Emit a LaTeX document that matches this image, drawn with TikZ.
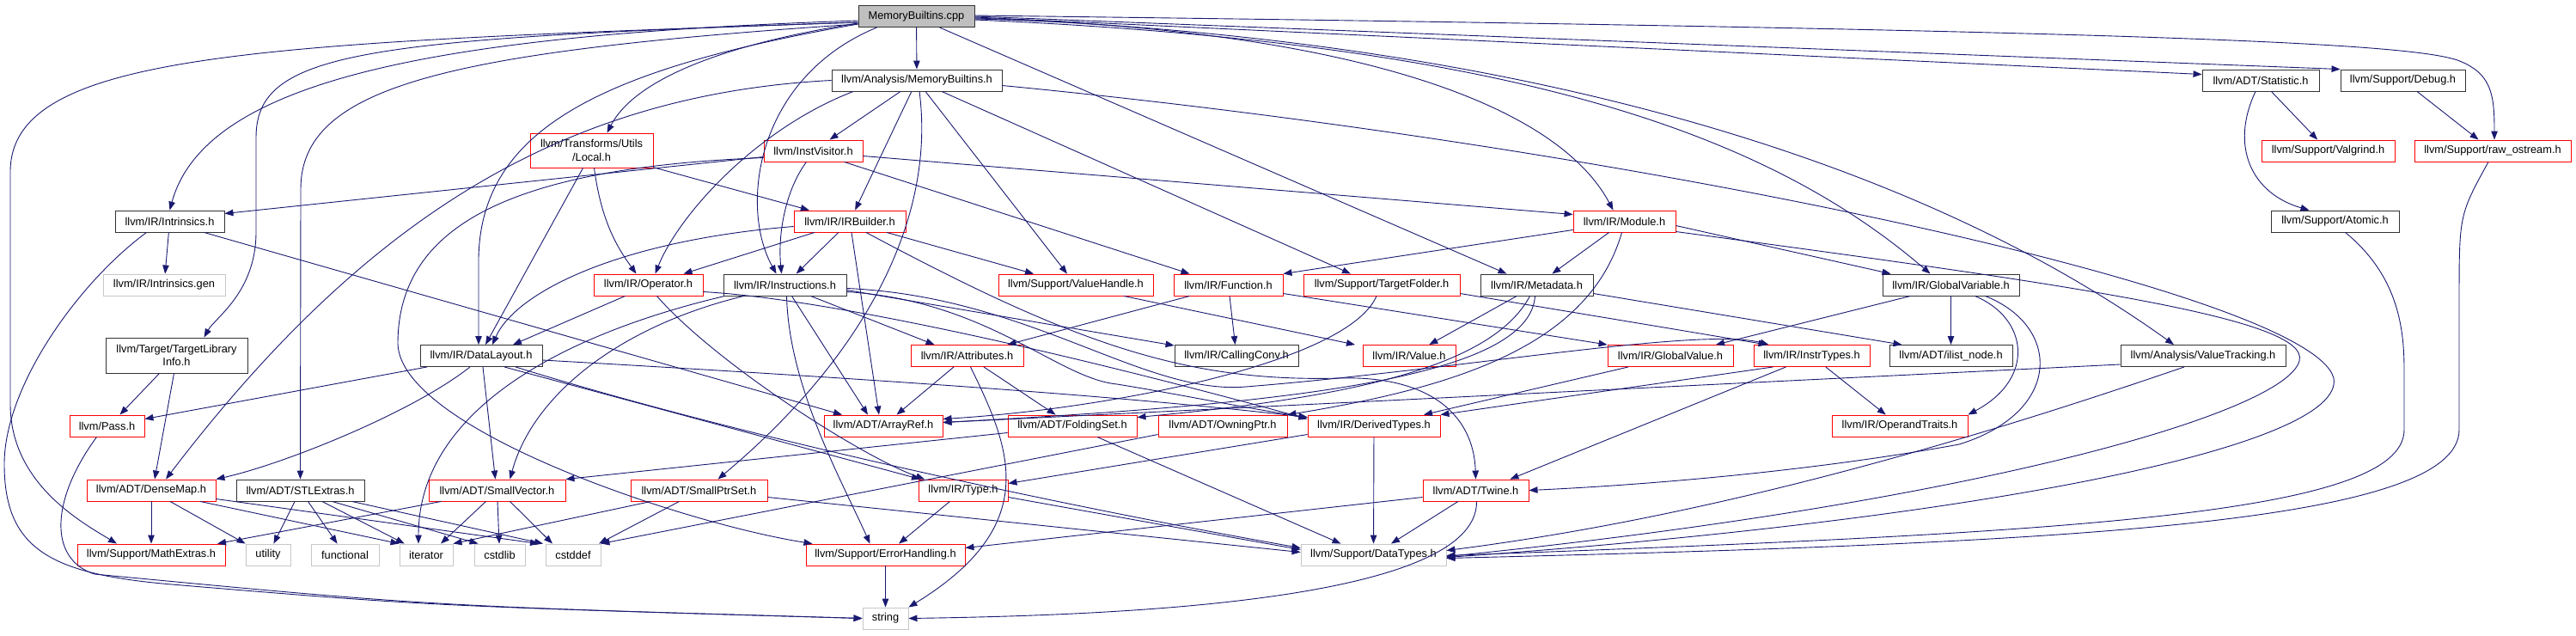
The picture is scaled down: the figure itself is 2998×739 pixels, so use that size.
\documentclass[tikz,border=0pt]{standalone}
\usepackage{fontspec}
\setmainfont{Liberation Sans}
\usetikzlibrary{arrows.meta}
\definecolor{edgeblue}{RGB}{25,25,112}
\begin{document}
\begin{tikzpicture}[x=1pt, y=-1pt,
  box/.style={rectangle, minimum height=25pt, inner sep=0pt, fill=white,
    font=\fontsize{12.8}{15.5}\selectfont, text=black, line width=0.9pt},
  rootbox/.style={box, draw=black!80, fill=black!25},
  hdr/.style={box, draw=black!80},
  trunc/.style={box, draw=red},
  sys/.style={box, draw=black!22},
  dep/.style={-{Triangle[length=10pt,width=7.5pt]}, draw=edgeblue, line width=0.9pt}
]
\useasboundingbox (0,0) rectangle (2998,739);

% nodes, row by row
\node[rootbox, minimum width=135pt] (cpp) at (1066.5,19) {MemoryBuiltins.cpp};

\node[hdr, minimum width=198pt] (mbh) at (1067,93.5) {llvm/Analysis/MemoryBuiltins.h};
\node[hdr, minimum width=136pt] (stat) at (2631,93.5) {llvm/ADT/Statistic.h};
\node[hdr, minimum width=145pt] (dbg) at (2796.5,93.5) {llvm/Support/Debug.h};

\node[trunc, minimum width=143pt, minimum height=40pt, align=center] (local) at (688.5,175) {llvm/Transforms/Utils\\/Local.h};
\node[trunc, minimum width=115pt] (instv) at (946.5,175.5) {llvm/InstVisitor.h};
\node[trunc, minimum width=155pt] (valg) at (2709.5,175.5) {llvm/Support/Valgrind.h};
\node[trunc, minimum width=182pt] (rawos) at (2901,175.5) {llvm/Support/raw\_ostream.h};

\node[hdr, minimum width=127pt] (intr) at (197.5,257.5) {llvm/IR/Intrinsics.h};
\node[trunc, minimum width=130pt] (irb) at (989,257.5) {llvm/IR/IRBuilder.h};
\node[trunc, minimum width=119pt] (mod) at (1890.5,257.5) {llvm/IR/Module.h};
\node[hdr, minimum width=149pt] (atom) at (2717.5,257.5) {llvm/Support/Atomic.h};

\node[sys, minimum width=142pt] (igen) at (191,331.5) {llvm/IR/Intrinsics.gen};
\node[trunc, minimum width=127pt] (oper) at (754.5,331.5) {llvm/IR/Operator.h};
\node[hdr, minimum width=143pt] (instr) at (913.5,331.5) {llvm/IR/Instructions.h};
\node[trunc, minimum width=180pt] (vh) at (1252,331.5) {llvm/Support/ValueHandle.h};
\node[trunc, minimum width=127pt] (func) at (1429.5,331.5) {llvm/IR/Function.h};
\node[trunc, minimum width=182pt] (tfold) at (1608,331.5) {llvm/Support/TargetFolder.h};
\node[hdr, minimum width=131pt] (meta) at (1788.5,331.5) {llvm/IR/Metadata.h};
\node[hdr, minimum width=159pt] (gvar) at (2270.5,331.5) {llvm/IR/GlobalVariable.h};

\node[hdr, minimum width=165pt, minimum height=41pt, align=center] (tli) at (205.5,413.5) {llvm/Target/TargetLibrary\\Info.h};
\node[hdr, minimum width=142pt] (dl) at (560,414) {llvm/IR/DataLayout.h};
\node[trunc, minimum width=131pt] (attr) at (1125.5,414) {llvm/IR/Attributes.h};
\node[hdr, minimum width=144pt] (cc) at (1439,414) {llvm/IR/CallingConv.h};
\node[trunc, minimum width=108pt] (val) at (1640,414) {llvm/IR/Value.h};
\node[trunc, minimum width=146pt] (gval) at (1944,414) {llvm/IR/GlobalValue.h};
\node[trunc, minimum width=135pt] (ityp) at (2108.5,414) {llvm/IR/InstrTypes.h};
\node[hdr, minimum width=143pt] (ilist) at (2270.5,414) {llvm/ADT/ilist\_node.h};
\node[hdr, minimum width=192pt] (vtr) at (2564,414) {llvm/Analysis/ValueTracking.h};

\node[trunc, minimum width=87pt] (pass) at (124.5,495.5) {llvm/Pass.h};
\node[trunc, minimum width=138pt] (aref) at (1028,495.5) {llvm/ADT/ArrayRef.h};
\node[trunc, minimum width=150pt] (fset) at (1248,495.5) {llvm/ADT/FoldingSet.h};
\node[trunc, minimum width=150pt] (optr) at (1423,495.5) {llvm/ADT/OwningPtr.h};
\node[trunc, minimum width=154pt] (dty) at (1599,495.5) {llvm/IR/DerivedTypes.h};
\node[trunc, minimum width=158pt] (otr) at (2211,495.5) {llvm/IR/OperandTraits.h};

\node[trunc, minimum width=150pt] (dmap) at (176,570.5) {llvm/ADT/DenseMap.h};
\node[hdr, minimum width=149pt] (stl) at (349.5,570.5) {llvm/ADT/STLExtras.h};
\node[trunc, minimum width=159pt] (svec) at (578.5,570.5) {llvm/ADT/SmallVector.h};
\node[trunc, minimum width=159pt] (sps) at (813.5,570.5) {llvm/ADT/SmallPtrSet.h};
\node[trunc, minimum width=104pt] (type) at (1121,570.5) {llvm/IR/Type.h};
\node[trunc, minimum width=123pt] (twine) at (1717.5,570.5) {llvm/ADT/Twine.h};

\node[trunc, minimum width=172pt] (mathx) at (176,645.5) {llvm/Support/MathExtras.h};
\node[sys, minimum width=52pt] (util) at (312,645.5) {utility};
\node[sys, minimum width=79pt] (fnl) at (401.5,645.5) {functional};
\node[sys, minimum width=62pt] (iter) at (496,645.5) {iterator};
\node[sys, minimum width=59pt] (cstdlib) at (581.5,645.5) {cstdlib};
\node[sys, minimum width=64pt] (cstddef) at (667,645.5) {cstddef};
\node[trunc, minimum width=185pt] (errh) at (1030.5,645.5) {llvm/Support/ErrorHandling.h};
\node[sys, minimum width=169pt] (dtyp) at (1598.5,645.5) {llvm/Support/DataTypes.h};

\node[sys, minimum width=53pt] (str) at (1030.5,719.5) {string};

% includes of the source file
\draw[dep] (cpp) -- (mbh);
\draw[dep] ([yshift=-5]cpp.west) .. controls (520,40) and (240,90) .. (intr.north);
\draw[dep] ([yshift=-7]cpp.west) .. controls (300,50) and (12,60) .. (12,200) -- (12,470) .. controls (12,560) and (90,605) .. ([xshift=-40]mathx.north);
\draw[dep] ([yshift=-7]cpp.west) .. controls (420,45) and (298,60) .. (298,160) -- (298,270) .. controls (298,340) and (250,370) .. ([xshift=32]tli.north);
\draw[dep] ([yshift=-9]cpp.west) .. controls (520,60) and (350,100) .. (350,220) -- (stl.north);
\draw[dep] ([yshift=-8]cpp.west) .. controls (850,50) and (740,90) .. ([xshift=18]local.north);
\draw[dep] ([yshift=-9]cpp.west) .. controls (700,80) and (560,150) .. (557,300) -- ([xshift=-3]dl.north);
\draw[dep] ([xshift=-46]cpp.south) .. controls (880,90) and (860,240) .. ([xshift=-10]instr.north);
\draw[dep] ([xshift=27]cpp.south) -- ([xshift=-35]meta.north);
\draw[dep] ([yshift=-3]cpp.east) .. controls (1500,30) and (1800,100) .. ([xshift=-13]mod.north);
\draw[dep] ([yshift=-4]cpp.east) .. controls (1750,50) and (2050,150) .. ([xshift=-24]gvar.north);
\draw[dep] ([yshift=-2]cpp.east) .. controls (1800,45) and (2250,200) .. ([xshift=-34]vtr.north);
\draw[dep] ([yshift=-1]cpp.east) -- ([yshift=7]stat.west);
\draw[dep] (cpp.east) -- (dbg.north west);
\draw[dep] ([yshift=1]cpp.east) .. controls (2500,35) and (2800,50) .. (2860,70) .. controls (2900,85) and (2903,110) .. ([xshift=2]rawos.north);

% MemoryBuiltins.h
\draw[dep] (mbh) -- (instv);
\draw[dep] (mbh) -- (irb);
\draw[dep] (mbh) -- (vh);
\draw[dep] (mbh) -- ([xshift=-36]tfold.north);
\draw[dep] ([yshift=-6]mbh.east) .. controls (1900,170) and (2690,340) .. (2716,440) .. controls (2730,520) and (2300,605) .. ([yshift=-3]dtyp.east);
\draw[dep] (mbh.west) .. controls (650,110) and (420,260) .. ([xshift=17]dmap.north);
\draw[dep] ([xshift=-74]mbh.south) .. controls (880,150) and (790,250) .. ([xshift=8]oper.north);
\draw[dep] ([xshift=3]mbh.south) .. controls (1090,260) and (1000,420) .. ([xshift=22]sps.north);

% Statistic.h, Debug.h, raw_ostream.h, Atomic.h
\draw[dep] (stat) -- (valg);
\draw[dep] ([xshift=-6]stat.south) .. controls (2595,170) and (2620,225) .. ([xshift=-30]atom.north);
\draw[dep] (dbg) -- (rawos);
\draw[dep] ([xshift=-5]rawos.south) .. controls (2862,250) .. (2862,350) -- (2862,500) .. controls (2862,610) and (2400,632) .. ([yshift=-4]dtyp.east);
\draw[dep] ([xshift=12]atom.south) .. controls (2790,320) and (2798,380) .. (2798,430) -- (2798,500) .. controls (2798,600) and (2400,620) .. ([yshift=-1]dtyp.east);

% Local.h
\draw[dep] (local) -- (irb);
\draw[dep] ([xshift=3]local.south) .. controls (700,260) and (720,290) .. ([xshift=-14]oper.north);
\draw[dep] ([xshift=-10]local.south) -- ([xshift=5]dl.north);

% InstVisitor.h
\draw[dep] ([yshift=-7]instv.west) -- ([yshift=9]intr.east);
\draw[dep] ([xshift=-8]instv.south) .. controls (915,220) and (905,270) .. ([xshift=-4]instr.north);
\draw[dep] ([yshift=-6]instv.east) -- ([yshift=8]mod.west);
\draw[dep] ([xshift=36]instv.south) -- ([xshift=-45]func.north);
\draw[dep] ([yshift=-8]instv.west) .. controls (600,195) and (463,260) .. (463,400) .. controls (466,500) and (800,610) .. ([xshift=-85]errh.north);

% IRBuilder.h
\draw[dep] (irb) -- (oper);
\draw[dep] (irb) -- (instr);
\draw[dep] ([yshift=-6]irb.west) .. controls (720,280) and (600,340) .. ([xshift=13]dl.north);
\draw[dep] ([xshift=2]irb.south) -- ([xshift=-5]aref.north);
\draw[dep] ([xshift=43]irb.south) -- ([xshift=-49]vh.north);
\draw[dep] ([xshift=19]irb.south) .. controls (1250,400) and (1380,445) .. (1560,440) .. controls (1660,437) and (1715,480) .. (twine.north);

% Instructions.h
\draw[dep] ([xshift=-70]instr.south) .. controls (650,390) and (487,480) .. ([xshift=-9]iter.north);
\draw[dep] ([xshift=-48]instr.south) .. controls (720,380) and (620,460) .. ([xshift=15]svec.north);
\draw[dep] ([xshift=2]instr.south) .. controls (918,450) and (980,560) .. ([xshift=-18]errh.north);
\draw[dep] ([xshift=8]instr.south) -- ([xshift=-18]aref.north);
\draw[dep] ([xshift=30]instr.south) -- ([xshift=-38]attr.north);
\draw[dep] ([yshift=-6]instr.east) -- ([yshift=12]cc.west);
\draw[dep] ([yshift=-8]instr.east) .. controls (1150,350) and (1230,440) .. (1300,447) .. controls (1380,460) and (1450,475) .. ([yshift=10]dty.west);
\draw[dep] ([yshift=-4]instr.east) .. controls (1200,345) and (1330,460) .. (1450,450) .. controls (1700,430) and (1980,380) .. ([xshift=-50]ityp.north);

% Operator.h
\draw[dep] ([xshift=-27]oper.south) -- ([xshift=37]dl.north);
\draw[dep] ([xshift=10]oper.south) .. controls (830,420) and (1000,530) .. ([xshift=-45]type.north);
\draw[dep] ([yshift=-8]oper.east) .. controls (1000,350) and (1350,440) .. ([yshift=8]dty.west);

% DataLayout.h
\draw[dep] ([xshift=-63]dl.south) -- ([yshift=8]pass.east);
\draw[dep] ([xshift=-13]dl.south) .. controls (480,480) and (330,540) .. (dmap.north east);
\draw[dep] ([xshift=2]dl.south) -- ([xshift=-2]svec.north);
\draw[dep] ([xshift=27]dl.south) -- ([xshift=-50]type.north);
\draw[dep] ([yshift=-5]dl.east) .. controls (1000,440) and (1300,460) .. ([yshift=10]dty.west);
\draw[dep] ([xshift=40]dl.south) .. controls (900,520) and (1300,600) .. ([yshift=8]dtyp.west);

% Attributes.h, Function.h, TargetFolder.h, ValueHandle.h
\draw[dep] (attr) -- (aref);
\draw[dep] (attr) -- (fset);
\draw[dep] ([xshift=4]attr.south) .. controls (1175,520) and (1215,610) .. (str.north east);
\draw[dep] ([xshift=-45]func.south) -- ([xshift=47]attr.north);
\draw[dep] (func) -- (cc);
\draw[dep] ([yshift=-10]func.east) -- (gval.north west);
\draw[dep] ([xshift=-6]tfold.south) .. controls (1570,420) and (1300,475) .. ([yshift=8]aref.east);
\draw[dep] ([yshift=-10]tfold.east) -- ([xshift=-52]ityp.north);
\draw[dep] ([xshift=56]vh.south) -- ([xshift=-63]val.north);

% Metadata.h, Module.h
\draw[dep] (meta) -- (val);
\draw[dep] ([yshift=-10]meta.east) -- ([xshift=-57]ilist.north);
\draw[dep] ([xshift=-8]meta.south) .. controls (1740,420) and (1600,460) .. ([yshift=10]fset.east);
\draw[dep] ([xshift=-2]meta.south) .. controls (1780,440) and (1500,470) .. ([yshift=4]aref.east);
\draw[dep] ([yshift=-10]mod.west) -- (func.north east);
\draw[dep] (mod) -- (meta);
\draw[dep] ([yshift=-5]mod.east) -- ([xshift=-70]gvar.north);
\draw[dep] ([yshift=-12]mod.east) .. controls (2400,330) and (2690,370) .. (2676,420) .. controls (2660,480) and (2300,585) .. ([yshift=-2]dtyp.east);
\draw[dep] ([xshift=-3]mod.south) .. controls (1850,400) and (1700,450) .. (optr.north east);

% GlobalVariable.h, GlobalValue.h, InstrTypes.h, ValueTracking.h
\draw[dep] ([xshift=-47]gvar.south) -- ([xshift=53]gval.north);
\draw[dep] (gvar) -- (ilist);
\draw[dep] ([xshift=28]gvar.south) .. controls (2360,370) and (2370,440) .. (otr.north east);
\draw[dep] ([xshift=40]gvar.south) .. controls (2400,380) and (2400,480) .. (2280,517) .. controls (2100,550) and (1900,565) .. (twine.east);
\draw[dep] ([xshift=-49]gval.south) -- ([xshift=58]dty.north);
\draw[dep] (ityp) -- (otr);
\draw[dep] ([xshift=-45]ityp.south) -- (dty.north east);
\draw[dep] ([xshift=-30]ityp.south) -- ([xshift=40]twine.north);
\draw[dep] ([yshift=-10]vtr.west) -- ([yshift=4]aref.east);
\draw[dep] ([xshift=-22]vtr.south) .. controls (2300,510) and (2000,600) .. ([yshift=5]dtyp.east);

% TargetLibraryInfo.h, Intrinsics.h, Pass.h
\draw[dep] ([xshift=-20]tli.south) -- ([xshift=15]pass.north);
\draw[dep] ([xshift=-3]tli.south) -- ([xshift=4]dmap.north);
\draw[dep] (intr) -- (igen);
\draw[dep] ([xshift=40]intr.south) -- ([xshift=-48]aref.north);
\draw[dep] ([xshift=-27]intr.south) .. controls (90,330) and (5,450) .. (5,540) .. controls (5,640) and (60,668) .. (200,680) .. controls (500,705) .. (str.west);
\draw[dep] ([xshift=-12]pass.south) .. controls (60,580) and (55,650) .. (110,668) .. controls (500,705) .. (str.west);

% lower headers
\draw[dep] (dmap) -- (mathx);
\draw[dep] ([xshift=22]dmap.south) -- (util.north west);
\draw[dep] ([xshift=57]dmap.south) -- (iter.north west);
\draw[dep] ([yshift=-10]dmap.east) -- ([xshift=-40]cstddef.north);
\draw[dep] (stl) -- (util);
\draw[dep] (stl) -- (fnl);
\draw[dep] (stl) -- (iter);
\draw[dep] ([xshift=37]stl.south) -- ([xshift=-25]cstdlib.north);
\draw[dep] ([xshift=60]stl.south) -- ([xshift=-35]cstddef.north);
\draw[dep] ([xshift=-65]svec.south) -- ([xshift=77]mathx.north);
\draw[dep] ([xshift=-13]svec.south) -- ([xshift=17]iter.north);
\draw[dep] (svec) -- (cstdlib);
\draw[dep] ([xshift=15]svec.south) -- ([xshift=-24]cstddef.north);
\draw[dep] ([xshift=-56]sps.south) -- (iter.north east);
\draw[dep] ([xshift=-23]sps.south) -- ([xshift=30]cstddef.north);
\draw[dep] ([yshift=-8]sps.east) -- ([yshift=3]dtyp.west);
\draw[dep] ([yshift=-8]fset.west) -- (svec.north east);
\draw[dep] ([xshift=29]fset.south) -- ([xshift=-38]dtyp.north);
\draw[dep] ([yshift=-10]optr.west) -- (cstddef.north east);
\draw[dep] (dty) -- (dtyp);
\draw[dep] ([yshift=-10]dty.west) -- ([yshift=8]type.east);
\draw[dep] (type) -- (errh);
\draw[dep] ([yshift=-8]type.east) -- ([yshift=6]dtyp.west);
\draw[dep] ([yshift=-8]twine.west) -- ([yshift=8]errh.east);
\draw[dep] (twine) -- (dtyp);
\draw[dep] ([xshift=1]twine.south) .. controls (1720,700) and (1300,716) .. (str.east);
\draw[dep] (errh) -- (str);
\end{tikzpicture}
\end{document}
